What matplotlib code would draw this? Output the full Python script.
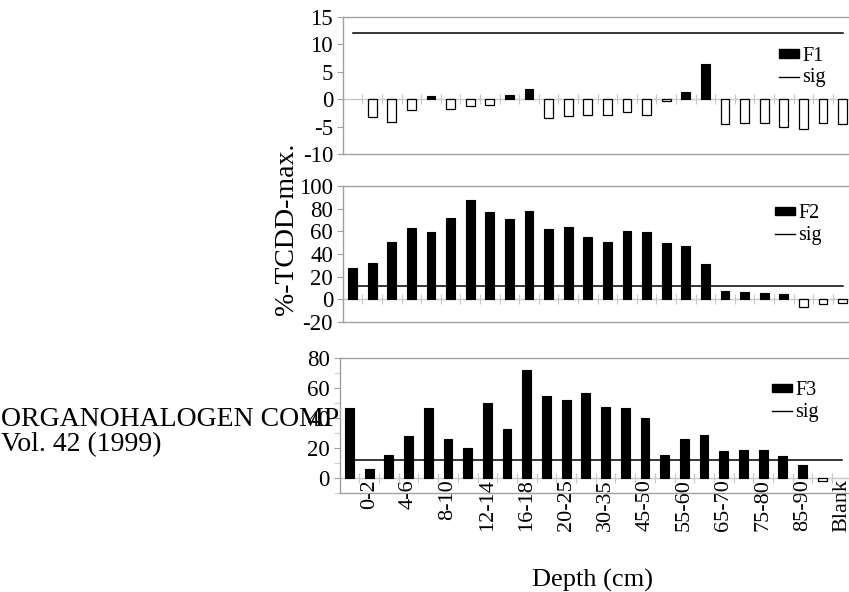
import numpy as np
import matplotlib
matplotlib.use('Agg')
import matplotlib.pyplot as plt
from matplotlib.patches import Patch
from matplotlib.lines import Line2D

plt.rcParams['font.family'] = ['Liberation Serif', 'DejaVu Serif']
plt.rcParams['axes.unicode_minus'] = False

# ---------------- data ----------------
n_cat = 26
depth_labels = ['0-2', '4-6', '8-10', '12-14', '16-18', '20-25', '30-35',
                '45-50', '55-60', '65-70', '75-80', '85-90', 'Blank']
nan = np.nan
f1 = [nan, -3.3, -4.2, -1.9, 0.6, -1.8, -1.3, -1.1, 0.8, 1.9, -3.5, -3.1, -2.9,
      -2.9, -2.4, -2.9, -0.4, 1.3, 6.5, -4.5, -4.4, -4.3, -5.1, -5.5, -4.4, -4.5]
f2 = [28, 32, 51, 63, 59, 72, 88, 77, 71, 78, 62, 64, 55, 51, 60, 59, 50, 47,
      31, 7, 6.7, 5.9, 4.4, -6.5, -4.1, -3.5]
f3 = [46.6, 6.3, 15.5, 28, 47, 26, 20, 50, 32.7, 71.8, 55, 52, 57, 47.5, 47,
      40, 15.5, 26, 28.6, 17.8, 18.5, 18.5, 14.4, 9, -2, nan]
sig_level = 12
series_names = ['F1', 'F2', 'F3']

# ---------------- layout ----------------
W, H = 849, 592
fig = plt.figure(figsize=(W / 100, H / 100), dpi=100)
fig.patch.set_facecolor('white')


def px_axes(left, top, right, bottom):
    return fig.add_axes([left / W, 1 - bottom / H, (right - left) / W, (bottom - top) / H])


panels = [
    dict(rect=(342.8, 17, 852.4, 154), vals=f1, ylim=(-10, 15), yticks=[-10, -5, 0, 5, 10, 15],
         yminor=[], leg=(779, 67), labels=False),
    dict(rect=(342.8, 186, 852.4, 322), vals=f2, ylim=(-20, 100), yticks=[-20, 0, 20, 40, 60, 80, 100],
         yminor=[], leg=(775, 224.5), labels=False),
    dict(rect=(339.6, 358, 851.8, 493), vals=f3, ylim=(-10, 80), yticks=[0, 20, 40, 60, 80],
         yminor=[-10, 10, 30, 50, 70], leg=(772, 401.5), labels=True),
]

frame_col = '#a0a0a0'
zero_col = '#c8c8c8'
x = np.arange(n_cat)
label_pos = np.arange(1, n_cat, 2)
bounds = np.arange(n_cat + 1) - 0.5

for name, p in zip(series_names, panels):
    ax = px_axes(*p['rect'])
    ax.set_zorder(1)
    ax.patch.set_facecolor('white')
    v = np.array(p['vals'], dtype=float)
    m = ~np.isnan(v)
    pos = m & (v >= 0)
    neg = m & (v < 0)
    ax.bar(x[pos], v[pos], width=0.45, color='black', edgecolor='black', linewidth=0.8, zorder=3)
    ax.bar(x[neg], v[neg], width=0.45, color='white', edgecolor='black', linewidth=0.9, zorder=3)
    ax.plot(x, np.full(n_cat, sig_level), color='black', lw=1.1, zorder=4)

    ax.set_xlim(-0.5, n_cat - 0.5)
    ax.set_ylim(*p['ylim'])
    ax.set_yticks(p['yticks'])
    ax.set_yticks(p['yminor'], minor=True)
    ax.set_xticks([])
    for s in ['left', 'top', 'bottom']:
        ax.spines[s].set_color(frame_col)
        ax.spines[s].set_linewidth(1.0)
    ax.spines['right'].set_visible(False)
    ax.tick_params(axis='y', which='major', direction='out', length=4, width=0.8,
                   color=frame_col, pad=3, labelsize=16.5)
    ax.tick_params(axis='y', which='minor', direction='out', length=4, width=0.8,
                   color='#d0d0d0')

    ymin, ymax = p['ylim']
    sec = ax.secondary_xaxis((0 - ymin) / (ymax - ymin))
    sec.spines['bottom'].set_color(zero_col)
    sec.spines['bottom'].set_linewidth(1.0)
    sec.set_xticks(bounds, minor=True)
    if p['labels']:
        sec.set_xticks(label_pos)
        sec.set_xticklabels(depth_labels, rotation=90)
    else:
        sec.set_xticks([])
    sec.tick_params(which='minor', direction='inout', length=7, width=0.8, color=zero_col)
    sec.tick_params(which='major', length=0, pad=1, labelsize=16)

    handles = [Patch(facecolor='black', edgecolor='black'),
               Line2D([], [], color='black', lw=1.0)]
    lx, ly = p['leg']
    ax.legend(handles=handles, labels=[name, 'sig'], loc='center left',
              bbox_to_anchor=(lx / W, 1 - ly / H), bbox_transform=fig.transFigure,
              frameon=False, fontsize=14.5, handlelength=1.0, handleheight=0.25,
              handletextpad=0.15, labelspacing=0.12, borderpad=0, borderaxespad=0)

# texts
fig.text(286 / W, 1 - 229 / H, '%-TCDD-max.', rotation=90, ha='center', va='center', fontsize=20)
fig.text(593 / W, 1 - 580 / H, 'Depth (cm)', ha='center', va='center', fontsize=19)
fig.text(1 / W, 1 - 420 / H, 'ORGANOHALOGEN COMPOUNDS', ha='left', va='center', fontsize=20, zorder=-1)
fig.text(1 / W, 1 - 445 / H, 'Vol. 42 (1999)', ha='left', va='center', fontsize=20, zorder=-1)

fig.savefig('out.png', dpi=100, facecolor='white')
